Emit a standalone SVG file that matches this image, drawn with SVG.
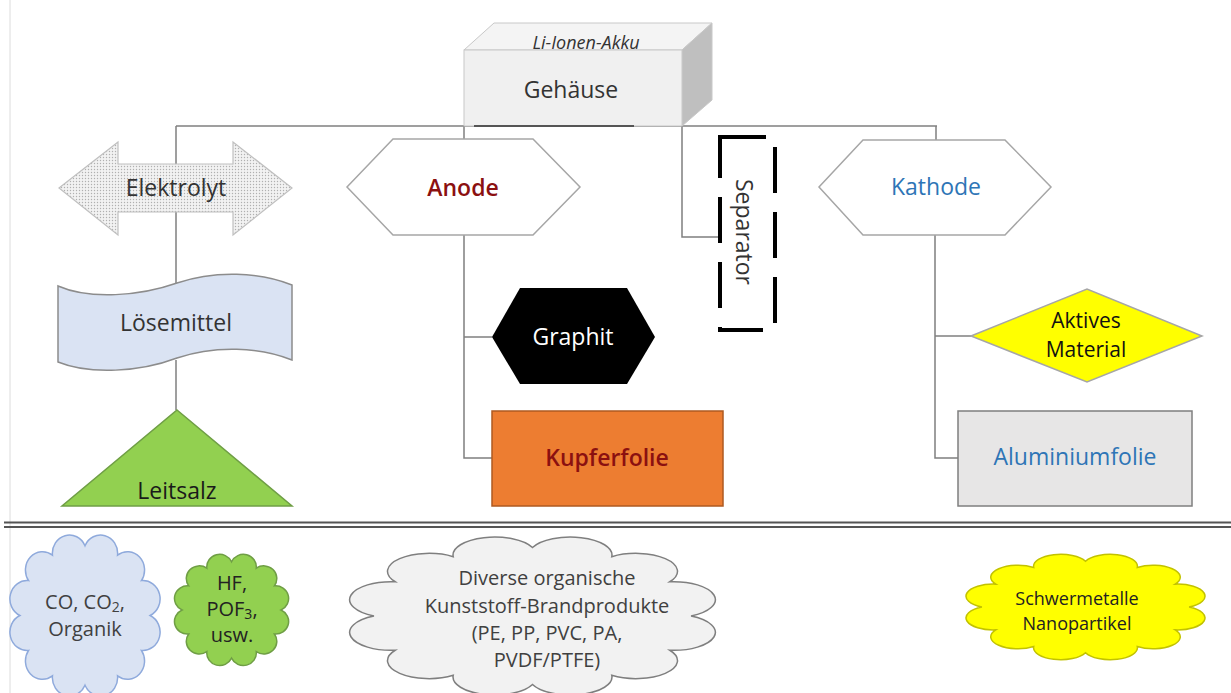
<svg xmlns="http://www.w3.org/2000/svg" xmlns:xlink="http://www.w3.org/1999/xlink" width="1231" height="693" viewBox="0 0 1231 693">
<style>
text{font-family:"Open Sans","Liberation Sans",sans-serif;font-size:23px;text-anchor:middle;dominant-baseline:central;fill:#333}
.conn{fill:none;stroke:#7f7f7f;stroke-width:1.5}
.hex{fill:#fff;stroke:#a6a6a6;stroke-width:1.5}
.sm{font-size:20px;fill:#404040}
.red{fill:#8b1010;font-weight:600}
.blue{fill:#2e75b6}
.cl{vector-effect:non-scaling-stroke;stroke-width:1.5}
</style>
<defs>
<pattern id="dots" width="3" height="3" patternUnits="userSpaceOnUse">
<rect width="3" height="3" fill="#f2f2f2"/>
<circle cx="1.5" cy="1.5" r="0.7" fill="#b0b0b0"/>
</pattern>
<path id="cloud" vector-effect="non-scaling-stroke" d="M50,10 A10.5,10.5 0 0 1 70,15.36 A10.5,10.5 0 0 1 84.64,30 A10.5,10.5 0 0 1 90,50 A10.5,10.5 0 0 1 84.64,70 A10.5,10.5 0 0 1 70,84.64 A10.5,10.5 0 0 1 50,90 A10.5,10.5 0 0 1 30,84.64 A10.5,10.5 0 0 1 15.36,70 A10.5,10.5 0 0 1 10,50 A10.5,10.5 0 0 1 15.36,30 A10.5,10.5 0 0 1 30,15.36 A10.5,10.5 0 0 1 50,10 Z"/>
</defs>
<rect width="1231" height="693" fill="#fff"/>
<line x1="10" y1="0" x2="10" y2="693" stroke="#dcdcdc" stroke-width="1"/>

<g id="connectors">
<path class="conn" d="M176,126 H937"/>
<path class="conn" d="M176,126 V286"/>
<path class="conn" d="M176,360 V410"/>
<path class="conn" d="M464,126 V140"/>
<path class="conn" d="M464,235 V458 H492"/>
<path class="conn" d="M464,337 H492"/>
<path class="conn" d="M682,126 V237 H720"/>
<path class="conn" d="M936,126 V140"/>
<path class="conn" d="M935,235 V458 H958"/>
<path class="conn" d="M935,336 H971"/>
</g>

<g id="gehaeuse">
<polygon points="464,50 494,23 712,23 682,50" fill="#f4f4f4" stroke="#c8c8c8" stroke-width="1"/>
<polygon points="682,50 712,23 712,100 682,126" fill="#bfbfbf" stroke="#c8c8c8" stroke-width="1"/>
<rect x="464" y="50" width="218" height="76" fill="#f0f0f0" stroke="#c8c8c8" stroke-width="1"/>
<line x1="474" y1="126" x2="634" y2="126" stroke="#555" stroke-width="2"/>
<text x="586" y="42" style="font-style:italic;font-size:18px">Li-Ionen-Akku</text>
<text x="571" y="89">Gehäuse</text>
</g>

<g id="elektrolyt">
<polygon points="59,188 118,142 118,164 233,164 233,142 292,188 233,235 233,212 118,212 118,235" fill="url(#dots)" stroke="#c0c0c0" stroke-width="1.2"/>
<text x="176" y="187">Elektrolyt</text>
</g>

<g id="loesemittel">
<path d="M58,286 C90,300 140,296 177,283 C215,270 260,272 292,285 L292,360 C260,347 215,345 177,358 C140,372 90,375 58,362 Z" fill="#dae3f3" stroke="#8c8c8c" stroke-width="1.5"/>
<text x="176" y="322">Lösemittel</text>
</g>

<g id="leitsalz">
<polygon points="177,410 292,506 62,506" fill="#92d050" stroke="#6f9e45" stroke-width="1.5"/>
<text x="177" y="490" style="fill:#1a1a1a">Leitsalz</text>
</g>

<g id="anode">
<polygon class="hex" points="347,187 393,139 533,139 580,187 533,235 393,235"/>
<text x="463" y="187" class="red">Anode</text>
</g>

<g id="graphit">
<polygon points="492,337 520,288 627,288 655,337 627,384 520,384" fill="#000"/>
<text x="573" y="336" style="fill:#fff">Graphit</text>
</g>

<g id="kupferfolie">
<rect x="492" y="411" width="231" height="95" fill="#ed7d31" stroke="#ae5a21" stroke-width="1.5"/>
<text x="607" y="457" class="red">Kupferfolie</text>
</g>

<g id="separator">
<path d="M720,137 H775 V330 H720 Z" fill="#fff" stroke="#000" stroke-width="4" stroke-dasharray="46 19"/>
<text x="745" y="232" transform="rotate(90 745 232)">Separator</text>
</g>

<g id="kathode">
<polygon class="hex" points="819,187 863,140 1005,140 1051,187 1005,235 863,235"/>
<text x="936" y="186" class="blue">Kathode</text>
</g>

<g id="aktives-material">
<polygon points="971,336 1087,289 1202,336 1087,382" fill="#ffff00" stroke="#a6a6a6" stroke-width="1.5"/>
<text x="1086" y="320" style="fill:#111;font-size:21px">Aktives</text>
<text x="1086" y="349" style="fill:#111;font-size:21px">Material</text>
</g>

<g id="aluminiumfolie">
<rect x="958" y="411" width="234" height="95" fill="#e7e6e6" stroke="#7f7f7f" stroke-width="1.5"/>
<text x="1075" y="456" class="blue">Aluminiumfolie</text>
</g>

<g id="trennlinie">
<line x1="4" y1="522.5" x2="1231" y2="522.5" stroke="#555" stroke-width="2"/>
<line x1="4" y1="527" x2="1231" y2="527" stroke="#555" stroke-width="2"/>
</g>

<g id="wolke-co">
<use xlink:href="#cloud" href="#cloud" class="cl" transform="translate(3.6,528.3) scale(1.628,1.744)" fill="#dae3f3" stroke="#8faadc"/>
<text x="85" y="601" class="sm">CO, CO<tspan font-size="14" dy="5">2</tspan><tspan dy="-5">,</tspan></text>
<text x="85" y="628" class="sm">Organik</text>
</g>

<g id="wolke-hf">
<use xlink:href="#cloud" href="#cloud" class="cl" transform="translate(169.7,549.7) scale(1.237,1.205)" fill="#92d050" stroke="#6f9e45"/>
<text x="232" y="582" class="sm" style="fill:#222">HF,</text>
<text x="232" y="608" class="sm" style="fill:#222">POF<tspan font-size="14" dy="5">3</tspan><tspan dy="-5">,</tspan></text>
<text x="232" y="634" class="sm" style="fill:#222">usw.</text>
</g>

<g id="wolke-kunststoff">
<use xlink:href="#cloud" href="#cloud" class="cl" transform="translate(334.3,530.4) scale(3.964,1.712)" fill="#f2f2f2" stroke="#7f7f7f"/>
<text x="547" y="577" class="sm">Diverse organische</text>
<text x="547" y="605" class="sm">Kunststoff-Brandprodukte</text>
<text x="547" y="632" class="sm">(PE, PP, PVC, PA,</text>
<text x="547" y="659" class="sm">PVDF/PTFE)</text>
</g>

<g id="wolke-schwermetalle">
<use xlink:href="#cloud" href="#cloud" class="cl" transform="translate(956,549.9) scale(2.59,1.142)" fill="#ffff00" stroke="#c2c200"/>
<text x="1077" y="598" class="sm" style="fill:#222;font-size:18px">Schwermetalle</text>
<text x="1077" y="623" class="sm" style="fill:#222;font-size:18px">Nanopartikel</text>
</g>
</svg>
